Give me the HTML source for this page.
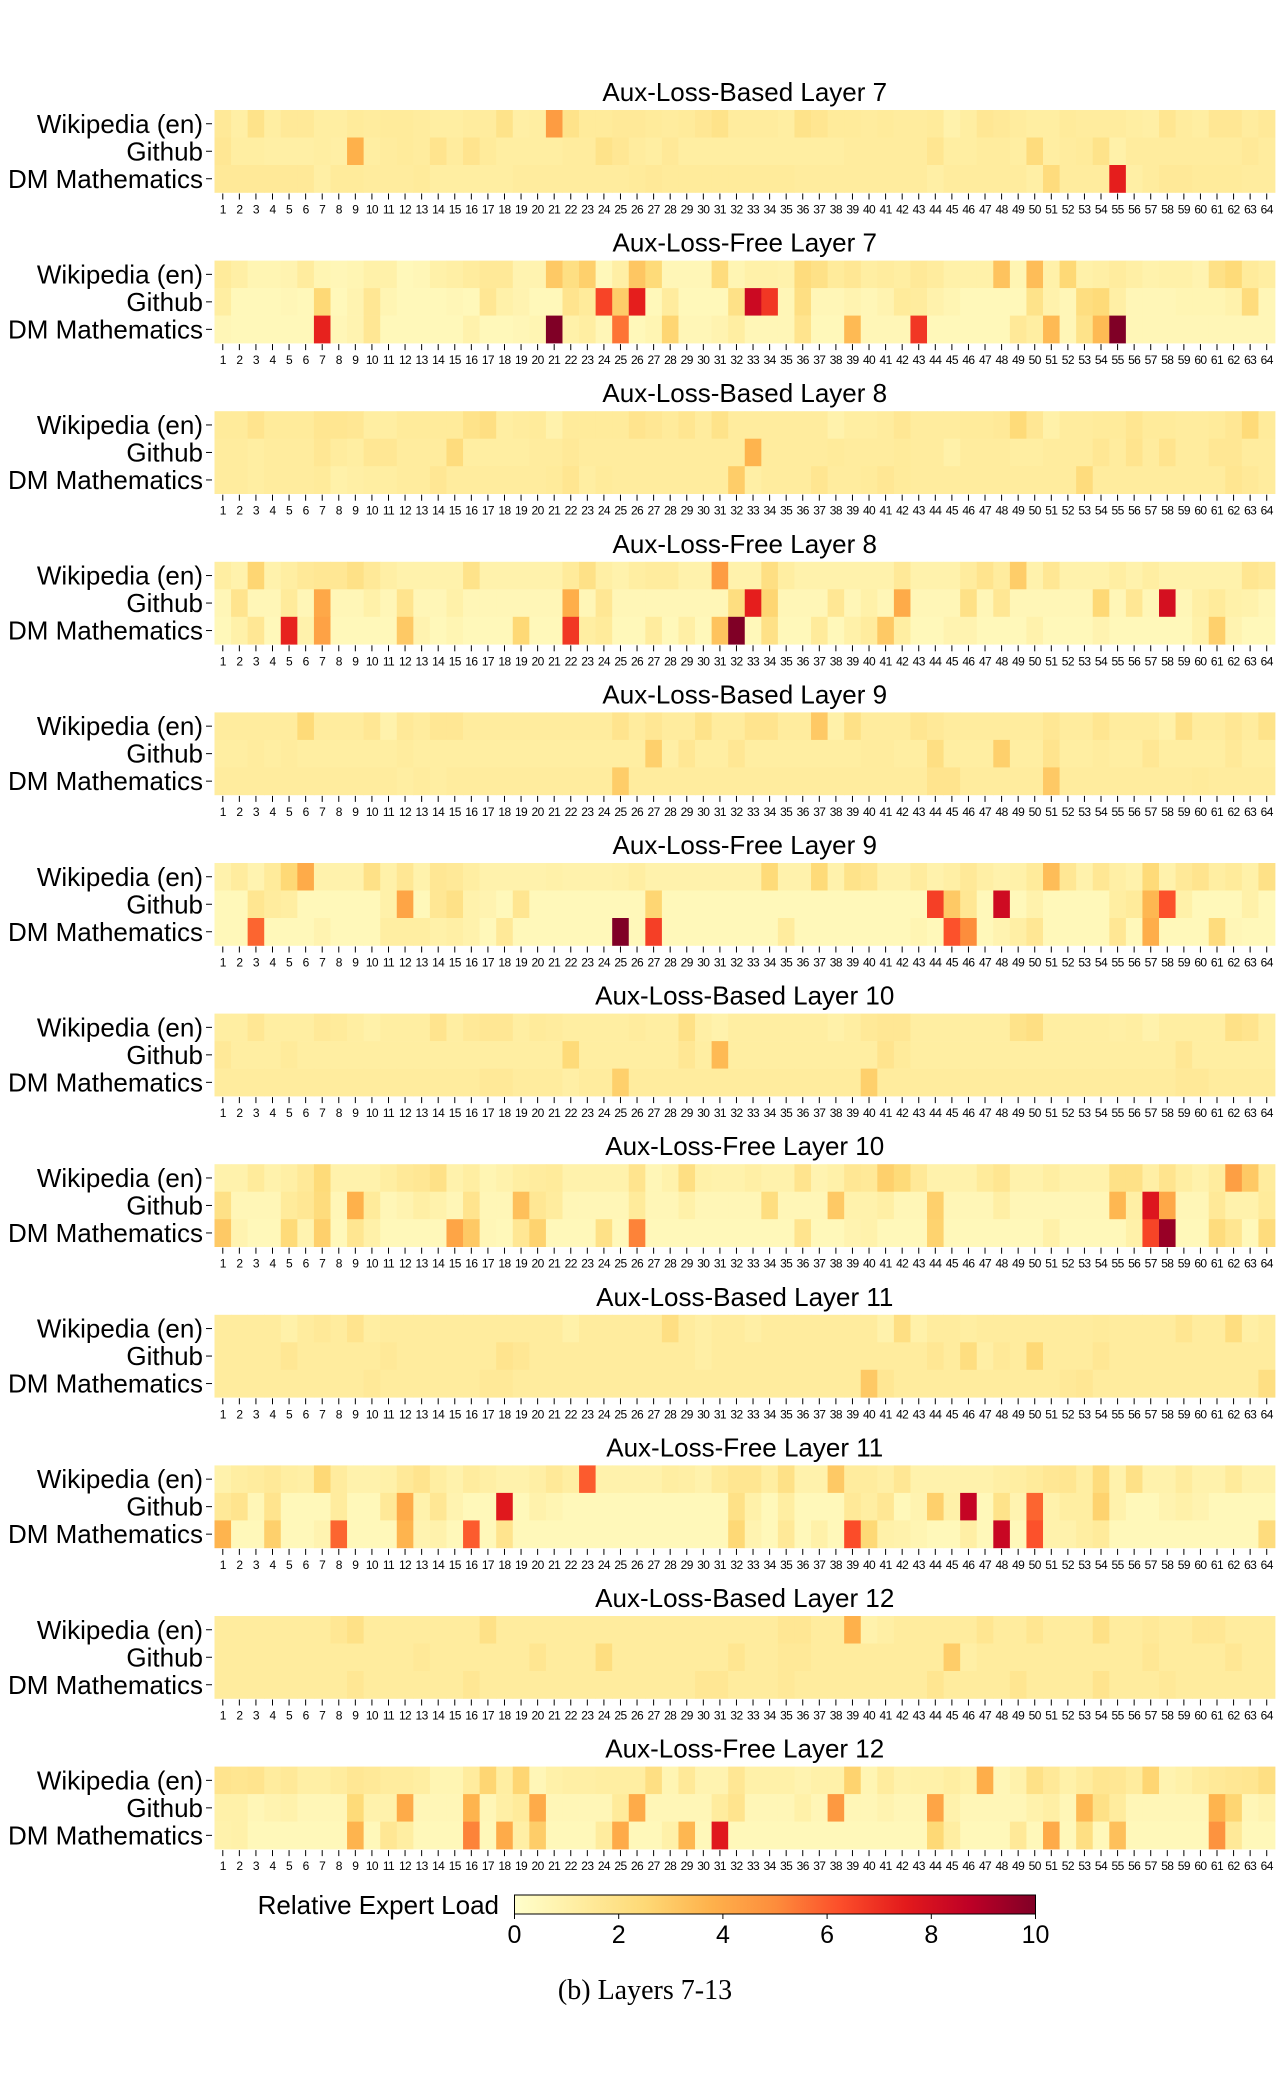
<!DOCTYPE html>
<html><head><meta charset="utf-8">
<style>
html,body{margin:0;padding:0;background:#fff;}
svg{display:block;}
text{font-family:"Liberation Sans",Arial,sans-serif;fill:#000;}
</style></head>
<body>
<svg id="chart" width="1287" height="2076" viewBox="0 0 1287 2076" xmlns="http://www.w3.org/2000/svg">
<defs>
<linearGradient id="ylorrd" x1="0" x2="1" y1="0" y2="0">
<stop offset="0" stop-color="#ffffcc"/><stop offset="0.125" stop-color="#ffeda0"/><stop offset="0.25" stop-color="#fed976"/><stop offset="0.375" stop-color="#feb24c"/><stop offset="0.5" stop-color="#fd8d3c"/><stop offset="0.625" stop-color="#fc4e2a"/><stop offset="0.75" stop-color="#e31a1c"/><stop offset="0.875" stop-color="#bd0026"/><stop offset="1" stop-color="#800026"/>
</linearGradient>
</defs>
<g id="panels"></g>
<g id="colorbar">
<text x="499" y="1914" font-size="26" text-anchor="end">Relative Expert Load</text>
<rect x="514.5" y="1895" width="521" height="19" fill="url(#ylorrd)" stroke="#000" stroke-width="1"/>
</g>
<text x="645" y="1999" font-size="28" text-anchor="middle" style="font-family:'Liberation Serif',serif">(b)  Layers 7-13</text>
</svg>
<script>
const datasets = ["Wikipedia (en)", "Github", "DM Mathematics"];
const panelTitles = ["Aux-Loss-Based Layer 7","Aux-Loss-Free Layer 7","Aux-Loss-Based Layer 8","Aux-Loss-Free Layer 8","Aux-Loss-Based Layer 9","Aux-Loss-Free Layer 9","Aux-Loss-Based Layer 10","Aux-Loss-Free Layer 10","Aux-Loss-Based Layer 11","Aux-Loss-Free Layer 11","Aux-Loss-Based Layer 12","Aux-Loss-Free Layer 12"];
const expertLabels = ["1","2","3","4","5","6","7","8","9","10","11","12","13","14","15","16","17","18","19","20","21","22","23","24","25","26","27","28","29","30","31","32","33","34","35","36","37","38","39","40","41","42","43","44","45","46","47","48","49","50","51","52","53","54","55","56","57","58","59","60","61","62","63","64"];
const colorbarTicks = [0, 2, 4, 6, 8, 10];

const p1W=[1.5,1.1,1.9,1.2,1.5,1.5,1.2,1.2, 1.4,1.3,1.4,1.4,1.3,1.2,1.2,1.3, 1.3,1.9,1.1,1.2,4.5,1.9,1.4,1.4, 1.5,1.5,1.4,1.3,1.4,1.6,1.9,1.3, 1.3,1.3,1.2,1.9,1.7,1.4,1.4,1.3, 1.4,1.3,1.3,1.4,0.9,1.2,1.6,1.5, 1.3,1.2,1.2,1.4,1.3,1.3,1.3,1.2, 1.1,1.7,1.3,1.2,1.6,1.6,1.3,1.5];
const p1G=[1.6,1.2,1.2,1.1,1.1,1.1,1.2,1.1, 3.8,1.2,1.3,1.4,1.3,1.8,1.3,1.8, 1.4,1.2,1.2,1.2,1.2,1.3,1.3,1.9, 1.6,1.3,1.2,1.5,1.2,1.2,1.2,1.2, 1.2,1.2,1.2,1.2,1.2,1.2,1.3,1.3, 1.3,1.3,1.3,1.7,1.2,1.2,1.3,1.3, 1.2,2.3,1.2,1.3,1.4,1.9,1.0,1.3, 1.3,1.3,1.3,1.3,1.3,1.3,1.5,1.3];
const p1D=[1.5,1.5,1.5,1.5,1.5,1.5,1.1,1.4, 1.4,1.3,1.3,1.3,1.4,1.2,1.2,1.2, 1.2,1.2,1.3,1.3,1.3,1.3,1.3,1.3, 1.3,1.4,1.5,1.4,1.4,1.4,1.4,1.4, 1.4,1.4,1.4,1.3,1.3,1.3,1.3,1.3, 1.3,1.3,1.3,1.1,1.3,1.3,1.3,1.3, 1.3,1.1,2.3,1.3,1.3,1.3,7.4,1.1, 1.3,1.5,1.5,1.4,1.4,1.4,1.3,1.3];
const p2W=[1.4,1.1,0.7,0.7,0.8,1.3,0.7,0.6, 0.7,1.0,1.0,0.5,0.6,1.0,1.1,1.3, 1.5,1.5,0.8,0.8,3.0,2.1,2.8,0.5, 1.1,3.1,2.4,0.6,0.6,0.6,2.3,0.7, 1.0,1.0,0.9,2.3,2.0,1.4,1.6,1.2, 1.3,1.2,1.5,1.3,1.0,1.0,1.0,3.2, 0.7,3.4,1.0,2.5,1.0,1.1,1.3,1.1, 0.9,1.0,1.0,0.8,2.0,2.4,1.4,1.2];
const p2G=[1.2,0.5,0.5,0.5,0.6,0.5,2.5,0.5, 0.8,1.6,0.7,0.5,0.5,0.5,0.6,0.5, 1.6,1.0,0.8,0.5,0.5,1.8,1.4,6.5, 2.9,7.4,0.5,1.3,0.5,0.5,0.5,2.0, 8.3,6.8,0.6,2.1,0.6,0.6,0.8,0.6, 0.8,1.4,1.3,0.9,0.7,0.5,0.5,0.5, 0.5,1.9,0.9,0.6,2.2,2.4,1.1,0.6, 0.6,0.6,0.7,0.7,0.7,0.9,2.3,0.6];
const p2D=[0.6,0.5,0.5,0.5,0.5,0.5,7.3,0.6, 0.8,1.6,0.5,0.5,0.5,0.5,0.5,0.9, 0.5,0.5,0.6,0.7,10,1.0,1.2,0.6, 5.5,0.5,0.7,2.6,0.6,0.6,0.8,1.2, 0.6,0.6,0.6,1.8,0.5,0.5,3.5,0.6, 0.6,0.6,6.8,0.5,0.5,0.5,0.5,0.5, 1.5,1.2,3.5,0.6,1.9,3.5,10,0.6, 0.6,0.6,0.6,0.6,0.6,0.6,0.6,0.6];
const p3W=[1.4,1.4,1.8,1.4,1.4,1.4,1.7,1.7, 1.6,1.2,1.2,1.4,1.4,1.4,1.4,1.9, 2.1,1.2,1.3,1.4,0.9,1.4,1.4,1.4, 1.4,1.8,1.6,1.4,1.7,1.3,1.9,1.3, 1.3,1.3,1.3,1.3,1.3,0.9,1.2,1.2, 1.3,1.6,1.3,1.3,1.3,1.4,1.4,1.5, 2.4,1.6,1.0,1.3,1.3,1.4,1.4,1.7, 1.4,1.4,1.3,1.3,1.4,1.6,2.4,1.4];
const p3G=[1.3,1.3,1.2,1.3,1.3,1.3,1.6,1.3, 1.2,1.6,1.6,1.3,1.3,1.3,2.3,1.2, 1.2,1.2,1.2,1.3,1.3,1.5,1.3,1.3, 1.3,1.3,1.3,1.3,1.3,1.3,1.3,1.3, 3.7,1.3,1.3,1.3,1.3,1.4,1.3,1.3, 1.3,1.4,1.3,1.3,1.0,1.3,1.3,1.3, 1.2,1.2,1.3,1.3,1.3,1.6,1.3,1.8, 1.3,1.8,1.3,1.3,1.6,1.6,1.3,1.3];
const p3D=[1.3,1.3,1.2,1.3,1.3,1.3,1.4,1.0, 1.1,1.2,1.2,1.3,1.3,1.6,1.3,1.3, 1.3,1.3,1.3,1.3,1.4,1.7,1.2,1.4, 1.3,1.3,1.3,1.3,1.3,1.3,1.3,2.9, 1.1,1.3,1.3,1.3,1.7,1.3,1.3,1.4, 1.6,1.4,1.3,1.3,1.3,1.3,1.3,1.3, 1.3,1.3,1.3,1.3,2.3,1.3,1.3,1.3, 1.3,1.3,1.3,1.3,1.3,1.7,1.5,1.3];
const p4W=[1.2,0.9,2.6,0.9,1.2,1.5,1.6,1.6, 2.0,1.5,1.1,0.9,0.9,0.9,0.9,1.9, 0.9,0.9,0.9,0.9,0.9,1.4,2.0,1.1, 0.9,1.2,1.3,1.3,0.9,0.9,4.5,0.9, 0.9,2.1,1.2,0.9,0.9,0.9,0.9,0.9, 0.9,1.5,0.9,0.9,0.9,1.3,1.8,1.3, 2.9,0.9,1.6,0.9,0.9,0.9,1.2,0.9, 1.2,0.9,0.9,0.9,0.9,0.9,1.7,1.5];
const p4G=[0.6,1.8,0.6,0.6,1.4,0.6,4.1,0.6, 0.6,1.0,0.6,1.8,0.6,0.6,1.0,0.6, 0.6,0.6,0.6,0.6,0.6,3.9,0.6,1.6, 0.6,0.6,0.6,0.6,0.6,0.6,0.6,2.2, 7.4,2.6,0.6,0.6,0.6,1.6,0.6,1.0, 0.6,4.0,0.6,0.6,0.6,2.0,0.6,1.6, 0.6,0.6,0.6,0.6,0.6,2.5,0.6,1.6, 0.6,8.0,0.6,1.1,1.4,1.0,0.9,0.6];
const p4D=[0.5,1.0,1.6,0.5,7.3,0.9,4.3,0.5, 0.5,0.5,0.5,3.0,0.8,0.5,0.7,0.5, 0.5,0.5,2.5,0.5,0.5,6.8,1.2,1.4, 0.5,0.5,1.3,0.5,1.1,0.5,3.2,10, 0.5,2.0,0.5,0.5,1.4,0.5,1.0,1.3, 3.0,1.2,0.5,0.5,0.8,0.8,0.5,0.5, 0.5,0.9,0.5,0.5,0.5,0.8,0.5,0.5, 0.5,0.5,0.5,1.0,2.8,0.8,0.5,0.5];
const p5W=[1.3,1.3,1.3,1.3,1.3,2.4,1.3,1.3, 1.3,1.6,0.9,1.5,1.3,1.6,1.6,1.3, 1.3,1.3,1.3,1.3,1.3,1.3,1.3,1.3, 1.8,1.3,1.6,1.3,1.3,1.9,1.3,1.3, 1.8,1.8,1.3,1.3,3.0,1.0,2.0,1.3, 1.3,1.3,1.7,1.5,1.3,1.3,1.3,1.3, 1.3,1.3,1.6,1.3,1.3,1.7,1.3,1.3, 1.3,1.0,2.0,1.3,1.3,1.6,1.3,1.9];
const p5G=[1.2,1.2,1.3,1.2,1.3,1.2,1.2,1.2, 1.2,1.2,1.2,1.3,1.2,1.2,1.2,1.2, 1.2,1.2,1.2,1.2,1.2,1.2,1.2,1.2, 1.2,1.2,2.8,1.1,1.6,1.2,1.2,1.6, 1.2,1.2,1.2,1.2,1.2,1.2,1.2,1.3, 1.3,1.2,1.2,2.1,1.2,1.2,1.2,2.8, 1.2,1.2,1.8,1.2,1.2,1.3,1.2,1.2, 1.6,1.2,1.2,1.2,1.2,1.5,1.2,1.2];
const p5D=[1.3,1.3,1.3,1.3,1.3,1.3,1.3,1.3, 1.3,1.3,1.3,1.2,1.3,1.2,1.3,1.3, 1.3,1.3,1.3,1.3,1.3,1.3,1.3,1.3, 2.9,1.3,1.3,1.3,1.3,1.3,1.3,1.3, 1.3,1.3,1.3,1.3,1.3,1.3,1.3,1.3, 1.3,1.3,1.3,1.8,1.8,1.3,1.3,1.3, 1.3,1.3,3.0,1.3,1.3,1.3,1.3,1.3, 1.3,1.3,1.3,1.4,1.3,1.3,1.3,1.3];
const p6W=[0.9,1.3,0.8,1.4,2.5,4.0,0.9,0.9, 0.9,2.0,1.0,1.6,0.9,1.6,1.5,1.2, 0.9,0.9,0.9,0.9,1.0,0.9,0.9,0.9, 1.0,1.2,0.9,0.9,0.9,0.9,0.9,0.9, 0.9,2.4,0.9,0.9,2.4,0.9,1.9,1.7, 0.9,0.9,1.3,0.9,1.1,1.5,1.1,0.9, 1.0,1.4,3.4,1.6,0.9,1.6,1.1,0.9, 2.4,0.9,1.5,1.8,1.2,1.4,1.0,2.0];
const p6G=[0.5,0.5,1.7,1.3,1.2,0.5,0.5,0.5, 0.5,0.5,1.0,4.2,0.5,1.6,2.0,0.9, 0.8,0.5,1.7,0.5,0.5,0.5,0.5,0.5, 0.5,0.5,2.6,0.5,0.5,0.5,0.5,0.5, 0.5,0.5,0.5,0.5,0.5,0.5,0.5,0.5, 0.5,0.5,0.5,6.6,3.0,1.6,0.5,8.2, 0.5,0.9,0.5,0.5,0.5,0.5,1.2,1.4, 3.6,6.2,1.0,0.5,0.5,0.5,1.0,0.5];
const p6D=[0.5,0.5,5.8,0.5,0.5,0.5,0.8,0.5, 0.5,0.5,1.2,1.2,1.2,1.0,1.1,0.9, 0.5,1.5,0.5,0.5,0.5,0.5,0.5,0.5, 10,0.5,6.6,0.5,0.5,0.5,0.5,0.5, 0.5,0.5,1.3,0.5,0.5,0.5,0.5,0.5, 0.5,0.5,0.7,0.5,6.2,5.0,0.5,0.8, 1.1,1.6,0.5,0.5,0.5,0.5,1.6,0.5, 3.9,0.5,0.5,0.5,2.3,0.6,0.5,0.5];
const p7W=[1.2,1.2,1.6,1.2,1.2,1.2,1.5,1.4, 1.2,1.0,1.2,1.2,1.2,1.8,1.2,1.5, 1.6,1.6,1.2,1.4,1.3,1.2,1.2,1.2, 1.2,1.3,1.2,1.2,2.0,1.1,0.9,1.2, 1.2,1.2,1.2,1.2,1.2,1.0,1.2,1.5, 1.6,1.6,1.2,1.2,1.2,1.2,1.2,1.2, 1.9,2.1,1.2,1.2,1.2,1.2,1.1,1.2, 0.9,1.2,1.2,1.2,1.2,2.0,1.8,1.2];
const p7G=[1.5,1.2,1.2,1.2,1.4,1.2,1.2,1.2, 1.2,1.2,1.2,1.2,1.2,1.2,1.2,1.2, 1.2,1.2,1.2,1.2,1.2,2.4,1.2,1.2, 1.2,1.2,1.2,1.2,1.6,1.2,3.5,1.2, 1.2,1.2,1.2,1.2,1.2,1.2,1.2,1.2, 1.8,1.4,1.2,1.2,1.2,1.2,1.2,1.2, 1.2,1.2,1.2,1.2,1.2,1.2,1.2,1.2, 1.2,1.2,1.6,1.2,1.2,1.2,1.2,1.2];
const p7D=[1.3,1.3,1.3,1.3,1.3,1.3,1.3,1.3, 1.3,1.3,1.3,1.3,1.3,1.3,1.3,1.3, 1.5,1.5,1.3,1.3,1.3,1.1,1.3,1.3, 2.8,1.3,1.3,1.3,1.3,1.3,1.3,1.3, 1.3,1.3,1.3,1.3,1.3,1.3,1.3,2.8, 1.3,1.3,1.3,1.3,1.3,1.3,1.3,1.3, 1.3,1.3,1.3,1.3,1.3,1.3,1.3,1.3, 1.3,1.3,1.5,1.5,1.3,1.3,1.3,1.3];
const p8W=[0.9,0.9,1.4,0.9,1.1,1.5,2.4,0.9, 0.9,0.9,1.2,1.5,1.6,2.0,0.9,1.2, 0.7,0.9,1.2,1.3,1.4,0.9,0.9,0.9, 0.9,1.8,0.6,0.9,2.1,1.0,0.9,0.9, 1.1,0.9,0.9,1.8,0.8,1.0,1.6,1.5, 2.8,2.4,1.5,0.9,0.9,0.9,1.4,1.7, 0.9,0.9,1.2,0.9,0.9,0.9,2.0,2.0, 1.1,1.8,1.2,0.9,1.3,4.4,3.0,1.3];
const p8G=[2.0,0.6,0.6,0.6,1.4,1.6,2.3,0.6, 3.8,1.4,0.6,0.8,1.1,0.9,0.6,1.8, 0.6,0.6,3.3,1.6,1.3,0.6,0.6,0.6, 0.6,1.4,0.6,0.6,1.0,0.6,0.6,0.6, 0.6,2.2,0.6,0.6,0.6,3.0,0.9,0.9, 1.1,0.6,0.6,2.8,0.6,0.6,0.6,1.1, 0.6,0.6,0.6,0.6,0.6,0.6,3.6,1.1, 7.7,4.1,0.6,0.6,1.5,0.9,0.9,1.4];
const p8D=[3.0,0.8,0.5,0.5,2.4,0.8,2.8,0.5, 1.7,1.0,0.5,0.5,0.5,0.5,4.2,3.0, 0.6,0.5,1.6,2.7,0.5,0.5,0.5,2.0, 0.5,5.2,0.5,0.5,0.5,0.5,0.5,0.5, 0.5,0.5,0.5,1.8,0.5,0.5,0.8,0.9, 0.5,0.5,0.5,2.7,0.5,0.5,0.5,0.5, 0.5,0.5,1.0,0.5,0.5,0.5,0.5,1.0, 6.5,9.5,0.5,0.5,2.3,1.7,0.5,2.3];
const p9W=[1.3,1.3,1.3,1.3,1.0,1.3,1.5,1.3, 1.8,1.2,1.3,1.3,1.3,1.3,1.3,1.3, 1.3,1.3,1.3,1.3,1.3,1.0,1.3,1.3, 1.3,1.3,1.3,2.1,1.3,1.1,1.3,1.3, 1.1,1.3,1.3,1.3,1.3,1.3,1.3,1.3, 0.9,2.1,1.0,1.3,1.3,1.2,1.3,1.3, 1.3,1.3,1.3,1.3,1.3,1.4,1.3,1.3, 1.3,1.3,1.7,1.3,1.3,2.2,1.1,1.3];
const p9G=[1.3,1.3,1.3,1.3,1.6,1.3,1.3,1.3, 1.3,1.3,1.5,1.3,1.3,1.3,1.3,1.3, 1.3,1.8,1.6,1.3,1.3,1.3,1.3,1.3, 1.3,1.3,1.3,1.3,1.3,1.1,1.3,1.3, 1.3,1.3,1.3,1.3,1.3,1.3,1.3,1.3, 1.3,1.3,1.3,1.6,1.3,2.2,1.1,1.5, 1.3,2.5,1.3,1.3,1.3,1.6,1.3,1.3, 1.3,1.3,1.3,1.3,1.3,1.3,1.3,1.3];
const p9D=[1.3,1.3,1.3,1.3,1.3,1.3,1.3,1.3, 1.3,1.5,1.3,1.3,1.3,1.3,1.3,1.3, 1.5,1.5,1.3,1.3,1.3,1.3,1.3,1.3, 1.3,1.3,1.3,1.3,1.3,1.3,1.3,1.3, 1.3,1.3,1.3,1.3,1.3,1.3,1.3,3.0, 1.6,1.3,1.3,1.3,1.3,1.3,1.3,1.3, 1.3,1.3,1.3,1.5,1.6,1.3,1.3,1.3, 1.3,1.3,1.3,1.3,1.3,1.3,1.3,2.1];
const p10W=[0.9,1.2,1.3,1.5,1.2,1.1,2.5,1.3, 0.9,0.9,1.0,1.5,1.8,1.2,0.9,1.3, 1.1,0.9,0.9,1.1,1.5,1.2,6.0,0.9, 0.9,0.9,0.9,1.2,1.1,0.9,1.4,1.7, 1.7,1.2,2.0,0.9,0.9,3.0,1.3,1.3, 1.1,1.6,0.9,0.9,0.9,0.9,0.9,1.1, 1.2,1.4,1.6,1.7,1.2,2.3,0.9,2.0, 0.9,0.9,1.3,0.9,0.9,1.4,0.9,0.9];
const p10G=[1.5,1.8,0.6,1.8,0.5,0.5,0.5,1.3, 0.5,0.5,1.5,4.0,0.9,1.6,0.8,0.5, 0.5,7.6,0.5,0.9,0.7,0.5,0.5,0.5, 0.5,0.5,0.5,0.5,0.5,0.5,0.5,2.0, 1.0,0.5,1.2,0.5,0.5,0.5,1.5,1.2, 1.6,0.5,0.8,2.8,1.0,8.5,0.5,1.9, 0.8,5.8,0.9,1.2,1.2,2.7,0.9,0.5, 0.5,0.8,1.0,0.8,0.5,0.5,0.5,0.5];
const p10D=[3.7,0.5,0.5,2.8,0.5,0.5,0.8,5.8, 0.5,0.5,0.5,3.7,0.8,0.9,0.5,6.0, 0.5,1.8,0.5,0.5,0.5,0.5,0.5,0.5, 0.5,0.5,0.5,0.5,0.5,0.5,0.5,2.5, 0.8,0.5,1.5,0.5,1.0,0.5,6.3,2.5, 1.0,0.9,0.7,0.5,0.5,1.1,0.5,8.4, 0.5,6.2,0.9,0.9,1.2,1.4,0.5,0.5, 0.5,0.5,0.5,0.5,0.5,0.5,0.5,2.3];
const p11W=[1.3,1.3,1.3,1.3,1.3,1.3,1.3,1.6, 2.0,1.3,1.3,1.3,1.3,1.3,1.3,1.3, 2.0,1.3,1.3,1.3,1.3,1.3,1.3,1.3, 1.3,1.3,1.3,1.3,1.3,1.3,1.3,1.3, 1.3,1.3,1.6,1.6,1.3,1.3,3.8,0.9, 1.1,1.3,1.3,1.3,1.3,1.3,1.7,1.3, 1.3,1.7,1.3,1.3,1.3,2.0,1.3,1.3, 1.5,1.3,1.3,1.6,1.6,1.3,1.3,1.3];
const p11G=[1.3,1.3,1.3,1.3,1.3,1.3,1.3,1.3, 1.3,1.3,1.3,1.3,1.5,1.3,1.3,1.3, 1.3,1.3,1.3,1.7,1.3,1.3,1.3,2.2, 1.3,1.3,1.3,1.3,1.3,1.3,1.3,1.7, 1.3,1.3,1.5,1.5,1.3,1.3,1.3,1.3, 1.3,1.3,1.3,1.3,2.9,1.1,1.3,1.3, 1.3,1.3,1.3,1.3,1.3,1.3,1.3,1.3, 1.6,1.3,1.3,1.3,1.3,1.6,1.3,1.3];
const p11D=[1.3,1.3,1.3,1.3,1.3,1.3,1.3,1.3, 1.6,1.3,1.3,1.3,1.3,1.3,1.3,1.6, 1.3,1.3,1.3,1.3,1.3,1.3,1.3,1.3, 1.3,1.3,1.3,1.3,1.3,1.6,1.6,1.3, 1.3,1.3,1.5,1.3,1.3,1.3,1.3,1.3, 1.3,1.3,1.3,1.7,1.3,1.3,1.3,1.3, 1.7,1.3,1.3,1.3,1.3,1.8,1.3,1.3, 1.3,1.5,1.3,1.3,1.3,1.3,1.3,1.3];
const p12W=[1.8,1.7,1.8,1.3,1.5,1.1,1.1,1.3, 1.6,1.5,1.3,1.3,1.2,0.7,0.7,1.3, 2.6,1.2,2.6,0.6,1.0,1.1,1.1,1.2, 1.2,1.2,2.1,0.7,1.5,0.8,0.8,1.6, 1.0,1.0,1.0,0.8,1.0,1.0,2.7,0.7, 1.3,0.9,1.0,1.0,1.2,1.0,3.9,0.6, 0.9,2.0,1.5,1.0,1.3,1.7,1.6,1.3, 2.6,0.8,1.0,1.3,1.5,1.6,1.7,2.1];
const p12G=[1.0,1.0,0.6,0.8,0.9,0.6,0.6,0.6, 2.4,0.9,0.9,4.0,0.6,0.6,0.6,3.7, 0.6,1.1,1.4,4.0,0.6,0.6,0.6,0.6, 1.4,4.0,0.6,0.6,0.6,0.6,1.3,1.8, 0.6,0.6,0.6,1.0,0.6,4.6,0.6,0.6, 0.8,0.6,0.6,4.2,0.9,0.6,0.6,0.6, 0.6,0.9,1.1,0.6,3.5,2.0,1.3,0.6, 0.6,0.6,0.6,0.6,3.7,2.6,0.6,0.8];
const p12D=[0.9,1.0,0.5,0.5,0.5,0.5,0.5,0.5, 3.7,0.5,1.6,1.2,0.5,0.5,0.5,5.2, 0.5,4.0,1.1,2.9,0.5,0.5,0.5,1.3, 4.0,0.5,0.5,1.0,3.6,0.5,7.6,0.5, 0.5,0.5,0.5,0.5,0.5,0.5,0.5,0.5, 0.5,0.5,0.5,2.5,1.2,0.5,0.5,0.5, 1.5,0.5,4.0,0.5,2.1,0.5,3.3,0.5, 0.5,0.5,0.5,0.5,4.8,1.5,0.5,0.5];

const panelData = [[p1W,p1G,p1D],[p2W,p2G,p2D],[p3W,p3G,p3D],[p4W,p4G,p4D],[p5W,p5G,p5D],[p6W,p6G,p6D],[p7W,p7G,p7D],[p8W,p8G,p8D],[p9W,p9G,p9D],[p10W,p10G,p10D],[p11W,p11G,p11D],[p12W,p12G,p12D]];

const NS = "http://www.w3.org/2000/svg";
const stops = ["#ffffcc","#ffeda0","#fed976","#feb24c","#fd8d3c","#fc4e2a","#e31a1c","#bd0026","#800026"];
const vMin = 0, vMax = 10;
function hex(c){return [parseInt(c.slice(1,3),16),parseInt(c.slice(3,5),16),parseInt(c.slice(5,7),16)];}
function colorScale(v){
  let t = Math.max(0, Math.min(1, (v - vMin) / (vMax - vMin))) * (stops.length - 1);
  let i = Math.min(stops.length - 2, Math.floor(t)), f = t - i;
  const a = hex(stops[i]), b = hex(stops[i+1]);
  return "rgb(" + a.map((x,k)=>Math.round(x + (b[k]-x)*f)).join(",") + ")";
}
const left = 214.5, right = 1275, rowH = 27.5, firstTop = 110, period = 150.6;
const cellW = (right - left) / expertLabels.length;
function xScale(i){ return left + i * cellW; }
function yTop(p){ return firstTop + p * period; }
function cbX(v){ return 514.5 + (v - vMin) / (vMax - vMin) * 521; }

function mk(tag, attrs, parent, text){
  const el = document.createElementNS(NS, tag);
  for (const k in attrs) el.setAttribute(k, attrs[k]);
  if (text !== undefined) el.textContent = text;
  parent.appendChild(el);
  return el;
}
const root = document.getElementById("panels");
panelData.forEach((rows, p) => {
  const top = yTop(p);
  const g = mk("g", {}, root);
  
  
  const title = mk("text", {x: (left+right)/2, y: top - 9, "font-size": 26, "text-anchor": "middle"}, g, panelTitles[p]);
  
  
  rows.forEach((vals, r) => {
    vals.forEach((v, i) => {
      const c = mk("rect", {x: xScale(i).toFixed(2), y: (top + r*rowH).toFixed(2), width: (cellW+0.4).toFixed(2), height: (rowH+0.3).toFixed(2), fill: colorScale(v)}, g);
      
      
    });
    const cy = top + r*rowH + rowH/2;
    const lab = mk("text", {x: 203, y: cy + 9, "font-size": 26, "text-anchor": "end"}, g, datasets[r]);
    
    
    const tk = mk("line", {x1: 206, x2: 212, y1: cy, y2: cy, stroke: "#000", "stroke-width": 1}, g);
    
    
  });
  const bottom = top + 3*rowH;
  expertLabels.forEach((lb, i) => {
    const cx = xScale(i) + cellW/2;
    const t = mk("line", {x1: cx, x2: cx, y1: bottom + 1, y2: bottom + 7, stroke: "#000", "stroke-width": 1}, g);
    
    
    const tl = mk("text", {x: cx, y: bottom + 21, "font-size": 12, "text-anchor": "middle", "letter-spacing": "-0.6"}, g, lb);
    
    
  });
});
const cb = document.getElementById("colorbar");
colorbarTicks.forEach(v => {
  const x = cbX(v);
  const l = mk("line", {x1: x, x2: x, y1: 1914, y2: 1919, stroke: "#000", "stroke-width": 1}, cb);
  
  
  const t = mk("text", {x: x, y: 1943, "font-size": 25, "text-anchor": "middle"}, cb, String(v));
  
  
});
</script>
</body></html>
